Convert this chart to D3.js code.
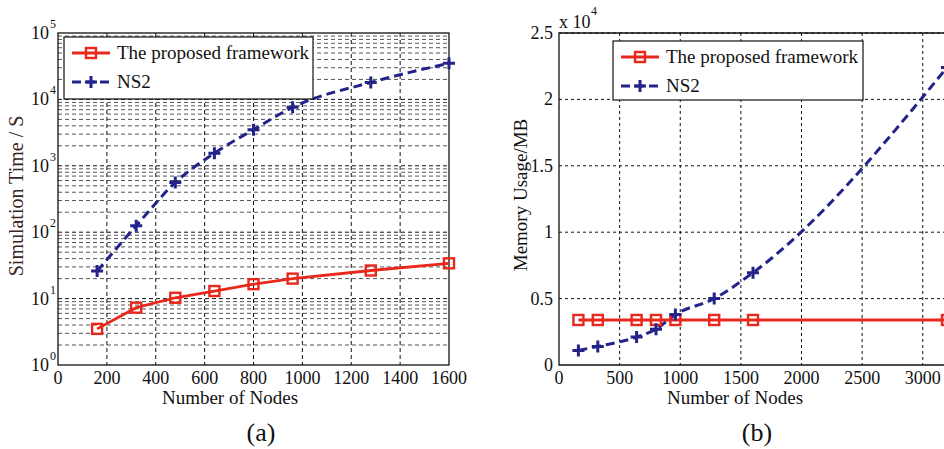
<!DOCTYPE html>
<head>
  <meta charset="utf-8">
  <script src="https://d3js.org/d3.v7.min.js"></script>
  <style>
    body { margin: 0; background: #fff; }
    text { font-family: "Liberation Serif", "Times New Roman", serif; fill: #111; }
  </style>
</head>
<body>
  <svg width="944" height="449"></svg>
  <script>
    // ---- data ----
    const nodesA = [160, 320, 480, 640, 800, 960, 1280, 1600];
    const simProposed = [3.5, 7.3, 10.3, 13, 16.5, 20, 26.5, 34];
    const simNS2 = [26, 125, 560, 1550, 3500, 7600, 18000, 35000];
    const xTicksA = [0, 200, 400, 600, 800, 1000, 1200, 1400, 1600];
    const decadesA = [0, 1, 2, 3, 4, 5];

    const nodesB = [160, 320, 640, 800, 960, 1280, 1600, 3200];
    const memProposed = [3390, 3390, 3390, 3390, 3390, 3390, 3390, 3390];
    const memNS2 = [1100, 1400, 2100, 2700, 3800, 5000, 6950, 22400];
    const xTicksB = [0, 500, 1000, 1500, 2000, 2500, 3000];
    const yTicksB = [0, 0.5, 1, 1.5, 2, 2.5];

    const legendNames = ['The proposed framework', 'NS2'];
    const red = '#e8281c', blue = '#23238a';
    const tickSize = 18, labelSize = 19;

    const svg = d3.select('svg');

    // plus / square markers
    const square = (g, pts, col) => g.selectAll(null).data(pts).enter().append('rect')
      .attr('x', d => d[0] - 5).attr('y', d => d[1] - 5)
      .attr('width', 10).attr('height', 10)
      .attr('fill', 'none').attr('stroke', col).attr('stroke-width', 2.4);
    const plus = (g, pts, col) => g.selectAll(null).data(pts).enter().append('path')
      .attr('d', d => `M${d[0] - 6},${d[1]}h12M${d[0]},${d[1] - 6}v12`)
      .attr('stroke', col).attr('stroke-width', 3);

    const legend = (x0, y0, w, h) => {
      const g = svg.append('g');
      g.append('rect').attr('x', x0).attr('y', y0).attr('width', w).attr('height', h)
        .attr('fill', '#fff').attr('stroke', '#111').attr('stroke-width', 1.2);
      const r1 = y0 + 16, r2 = y0 + 45;
      g.append('line').attr('x1', x0 + 8).attr('x2', x0 + 46).attr('y1', r1).attr('y2', r1)
        .attr('stroke', red).attr('stroke-width', 2.8);
      square(g, [[x0 + 27, r1]], red);
      g.append('line').attr('x1', x0 + 8).attr('x2', x0 + 46).attr('y1', r2).attr('y2', r2)
        .attr('stroke', blue).attr('stroke-width', 3).attr('stroke-dasharray', '9,5');
      plus(g, [[x0 + 27, r2]], blue);
      g.append('text').attr('x', x0 + 53).attr('y', r1 + 6).attr('font-size', 19).text(legendNames[0]);
      g.append('text').attr('x', x0 + 53).attr('y', r2 + 6).attr('font-size', 19).text(legendNames[1]);
    };

    // ================= (a) =================
    {
      const x = d3.scaleLinear().domain([0, 1600]).range([58, 449]);
      const y = d3.scaleLog().domain([1, 1e5]).range([365, 33]);
      const g = svg.append('g');

      // minor horizontal grid
      const minor = [];
      decadesA.slice(0, -1).forEach(k => { for (let m = 2; m <= 9; m++) minor.push(m * 10 ** k); });
      g.selectAll(null).data(minor).enter().append('line')
        .attr('x1', x.range()[0]).attr('x2', x.range()[1])
        .attr('y1', d => y(d)).attr('y2', d => y(d))
        .attr('stroke', '#555').attr('stroke-width', 1).attr('stroke-dasharray', '4,3');
      g.selectAll(null).data(decadesA.slice(1, -1)).enter().append('line')
        .attr('x1', x.range()[0]).attr('x2', x.range()[1])
        .attr('y1', d => y(10 ** d)).attr('y2', d => y(10 ** d))
        .attr('stroke', '#111').attr('stroke-width', 1).attr('stroke-dasharray', '4,3');
      g.selectAll(null).data(xTicksA.slice(1, -1)).enter().append('line')
        .attr('x1', d => x(d)).attr('x2', d => x(d))
        .attr('y1', 33).attr('y2', 365)
        .attr('stroke', '#111').attr('stroke-width', 1).attr('stroke-dasharray', '4,3');

      g.append('rect').attr('x', 58).attr('y', 33).attr('width', 391).attr('height', 332)
        .attr('fill', 'none').attr('stroke', '#111').attr('stroke-width', 1.3);

      // x ticks
      g.selectAll(null).data(xTicksA).enter().append('text')
        .attr('x', d => x(d)).attr('y', 384).attr('text-anchor', 'middle')
        .attr('font-size', tickSize).text(d => d);
      // y ticks
      const yt = g.selectAll(null).data(decadesA).enter().append('g');
      yt.append('text').attr('x', 49).attr('y', d => y(10 ** d) + 6)
        .attr('text-anchor', 'end').attr('font-size', tickSize).text('10');
      yt.append('text').attr('x', 50).attr('y', d => y(10 ** d) - 5)
        .attr('font-size', 12).text(d => d);

      g.append('text').attr('x', 230).attr('y', 404).attr('text-anchor', 'middle')
        .attr('font-size', labelSize).text('Number of Nodes');
      g.append('text').attr('transform', 'translate(23,196) rotate(-90)')
        .attr('text-anchor', 'middle').attr('font-size', 20).style('fill', '#3a2424')
        .text('Simulation Time / S');
      g.append('text').attr('x', 261).attr('y', 441).attr('text-anchor', 'middle')
        .attr('font-size', 26).text('(a)');

      const ptsP = nodesA.map((n, i) => [x(n), y(simProposed[i])]);
      const ptsN = nodesA.map((n, i) => [x(n), y(simNS2[i])]);
      g.append('path').attr('d', d3.line()(ptsP)).attr('fill', 'none')
        .attr('stroke', red).attr('stroke-width', 2.8);
      g.append('path').attr('d', d3.line().curve(d3.curveMonotoneX)(ptsN)).attr('fill', 'none')
        .attr('stroke', blue).attr('stroke-width', 3).attr('stroke-dasharray', '9,5');
      square(g, ptsP, red);
      plus(g, ptsN, blue);

      legend(64, 37, 249, 62);
    }

    // ================= (b) =================
    {
      const x = d3.scaleLinear().domain([0, 3200]).range([559, 947]);
      const y = d3.scaleLinear().domain([0, 2.5]).range([365, 33]);
      const g = svg.append('g');

      g.selectAll(null).data(yTicksB.slice(1)).enter().append('line')
        .attr('x1', 559).attr('x2', 947)
        .attr('y1', d => y(d)).attr('y2', d => y(d))
        .attr('stroke', '#111').attr('stroke-width', 1).attr('stroke-dasharray', '3,3');
      g.selectAll(null).data(xTicksB.slice(1)).enter().append('line')
        .attr('x1', d => x(d)).attr('x2', d => x(d))
        .attr('y1', 33).attr('y2', 365)
        .attr('stroke', '#111').attr('stroke-width', 1).attr('stroke-dasharray', '3,3');

      g.append('path').attr('d', 'M947,33H559V365H947').attr('fill', 'none')
        .attr('stroke', '#111').attr('stroke-width', 1.3);

      g.selectAll(null).data(xTicksB).enter().append('text')
        .attr('x', d => x(d)).attr('y', 384).attr('text-anchor', 'middle')
        .attr('font-size', tickSize).text(d => d);
      g.selectAll(null).data(yTicksB).enter().append('text')
        .attr('x', 553).attr('y', d => y(d) + 6).attr('text-anchor', 'end')
        .attr('font-size', tickSize).text(d => d);
      g.append('text').attr('x', 559).attr('y', 28).attr('font-size', tickSize).text('x 10');
      g.append('text').attr('x', 591).attr('y', 15).attr('font-size', 12).text('4');

      g.append('text').attr('x', 735).attr('y', 404).attr('text-anchor', 'middle')
        .attr('font-size', labelSize).text('Number of Nodes');
      g.append('text').attr('transform', 'translate(527,195) rotate(-90)')
        .attr('text-anchor', 'middle').attr('font-size', labelSize).text('Memory Usage/MB');
      g.append('text').attr('x', 757).attr('y', 441).attr('text-anchor', 'middle')
        .attr('font-size', 26).text('(b)');

      const ptsP = nodesB.map((n, i) => [x(n), y(memProposed[i] / 1e4)]);
      const ptsN = nodesB.map((n, i) => [x(n), y(memNS2[i] / 1e4)]);
      g.append('path').attr('d', d3.line()(ptsP)).attr('fill', 'none')
        .attr('stroke', red).attr('stroke-width', 2.8);
      g.append('path').attr('d', d3.line().curve(d3.curveMonotoneX)(ptsN)).attr('fill', 'none')
        .attr('stroke', blue).attr('stroke-width', 3).attr('stroke-dasharray', '9,5');
      square(g, ptsP, red);
      plus(g, ptsN, blue);

      legend(613, 41, 250, 59);
    }
  </script>
</body>
